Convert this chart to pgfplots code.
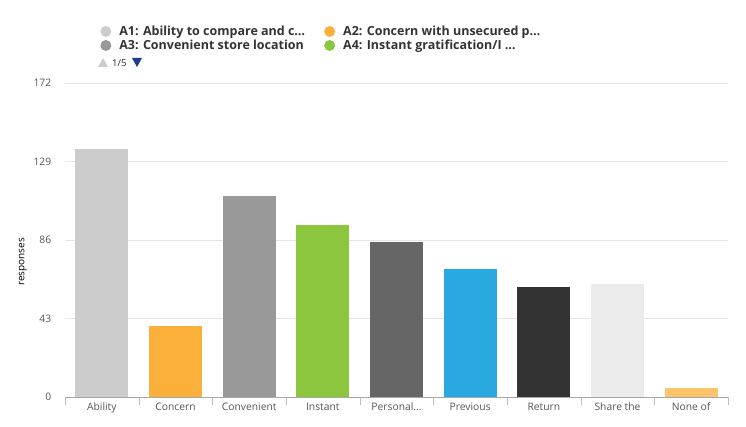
\documentclass[border=0pt]{standalone}
\usepackage{pgfplots}
\pgfplotsset{compat=1.18}
\usepackage{fontspec}
\setmainfont{Open Sans}
\definecolor{cA}{HTML}{CCCCCC}
\definecolor{cB}{HTML}{FBB03B}
\definecolor{cC}{HTML}{999999}
\definecolor{cD}{HTML}{8CC63F}
\definecolor{cE}{HTML}{666666}
\definecolor{cF}{HTML}{29A9E0}
\definecolor{cG}{HTML}{333333}
\definecolor{cH}{HTML}{EBEBEB}
\definecolor{cI}{HTML}{FDC46B}
\definecolor{txt}{HTML}{555555}
\definecolor{navy}{HTML}{1F3A93}
\begin{document}
\begin{tikzpicture}[x=1pt,y=1pt]
\useasboundingbox (0,0) rectangle (746,426);
\begin{axis}[
  at={(65pt,29pt)}, anchor=south west,
  width=663pt, height=314pt, scale only axis,
  ymin=0, ymax=172, ytick={0,43,86,129,172},
  xmin=-0.5, xmax=8.5,
  xtick={0,...,8},
  xticklabels={Ability,Concern,Convenient,Instant,Personal\ldots,Previous,Return,Share the,None of},
  minor xtick={-0.5,0.5,...,8.5},
  xtick pos=bottom, ytick pos=left, tick align=outside,
  major x tick style={draw=none},
  minor x tick style={draw=black!25},
  minor tick length=8pt,
  ytick style={draw=none},
  ymajorgrids, grid style={draw=black!10},
  axis x line*=bottom, axis y line*=left,
  x axis line style={draw=black!35,-},
  y axis line style={draw=none},
  ticklabel style={font=\fontsize{10.3}{12}\selectfont, text=txt},
  /pgf/number format/assume math mode=true,
  xticklabel style={yshift=2pt},
  yticklabel style={xshift=-6pt},
  ylabel={responses}, ylabel style={font=\fontsize{10}{12}\selectfont, text=txt},
  every axis y label/.style={at={(ticklabel cs:0.5)}, rotate=90, anchor=south, xshift=-22pt},
  ybar, bar width=53pt, bar shift=0pt,
  legend columns=2,
  legend style={at={(0.0485,1.195)}, anchor=north west, draw=none, fill=none,
    font=\fontsize{12.5}{13}\selectfont\bfseries, text=black!80,
    /tikz/every even column/.append style={column sep=17pt},
    row sep=-1pt},
  legend cell align=left,
  legend image code/.code={\fill[#1] (0pt,0pt) circle (5.5pt); \path (11.5pt,0pt);},
]
\addplot[fill=cA, draw=none] coordinates {(0,136)};
\addplot[fill=cB, draw=none] coordinates {(1,39)};
\addplot[fill=cC, draw=none] coordinates {(2,110)};
\addplot[fill=cD, draw=none] coordinates {(3,94)};
\addplot[fill=cE, draw=none, forget plot] coordinates {(4,85)};
\addplot[fill=cF, draw=none, forget plot] coordinates {(5,70)};
\addplot[fill=cG, draw=none, forget plot] coordinates {(6,60)};
\addplot[fill=cH, draw=none, forget plot] coordinates {(7,62)};
\addplot[fill=cI, draw=none, forget plot] coordinates {(8,5)};
\legend{A1: Ability to compare and c\ldots, A2: Concern with unsecured p\ldots, A3: Convenient store location, A4: Instant gratification/I \ldots}
\end{axis}
\fill[black!20] (98,359) -- (108,359) -- (103,368) -- cycle;
\node[anchor=west, font=\fontsize{9.5}{11}\selectfont, text=black!85, inner sep=0pt] at (112,363) {1/5};
\fill[navy] (132,368) -- (142,368) -- (137,359) -- cycle;
\end{tikzpicture}
\end{document}
